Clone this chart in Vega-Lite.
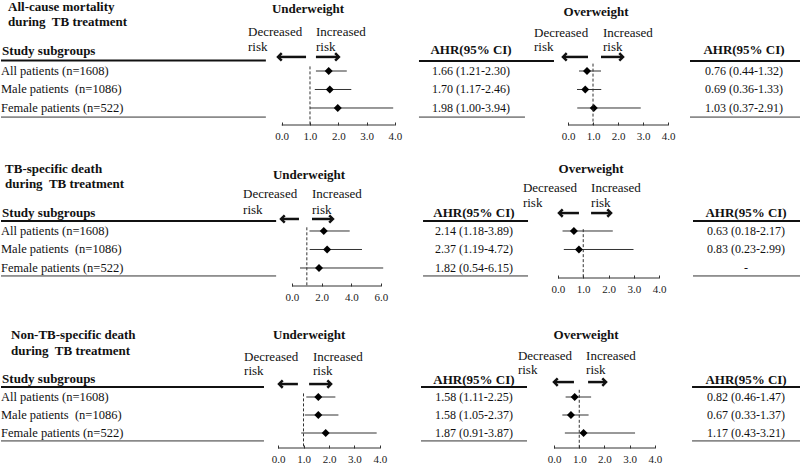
{
"$schema": "https://vega.github.io/schema/vega-lite/v6.json",
"padding": 0,
"background": "white",
"columns": 5,
"spacing": {"row": 30, "column": 0},
"bounds": "flush",
"config": {"view": {"stroke": null}, "font": "Liberation Serif",
  "axisX": {"labelOverlap": false, "labelFlush": false, "domain": false, "grid": false, "ticks": true, "tickSize": -3, "tickWidth": 1, "tickColor": "#333", "labelFont": "Liberation Serif", "labelFontSize": 11, "labelColor": "#222", "labelPadding": 8, "labelSeparation": 0}},
"datasets": {
"rows": [{"row":1,"label":"All patients (n=1608)"},{"row":2,"label":"Male patients\u00a0 (n=1086)"},{"row":3,"label":"Female patients (n=522)"}],
"forest": [
{"b":1,"e":"U","row":1,"ahr":1.66,"lo":1.21,"hi":2.30,"ci":"1.66 (1.21-2.30)"},
{"b":1,"e":"U","row":2,"ahr":1.70,"lo":1.17,"hi":2.46,"ci":"1.70 (1.17-2.46)"},
{"b":1,"e":"U","row":3,"ahr":1.98,"lo":1.00,"hi":3.94,"ci":"1.98 (1.00-3.94)"},
{"b":1,"e":"O","row":1,"ahr":0.76,"lo":0.44,"hi":1.32,"ci":"0.76 (0.44-1.32)"},
{"b":1,"e":"O","row":2,"ahr":0.69,"lo":0.36,"hi":1.33,"ci":"0.69 (0.36-1.33)"},
{"b":1,"e":"O","row":3,"ahr":1.03,"lo":0.37,"hi":2.91,"ci":"1.03 (0.37-2.91)"},
{"b":2,"e":"U","row":1,"ahr":2.14,"lo":1.18,"hi":3.89,"ci":"2.14 (1.18-3.89)"},
{"b":2,"e":"U","row":2,"ahr":2.37,"lo":1.19,"hi":4.72,"ci":"2.37 (1.19-4.72)"},
{"b":2,"e":"U","row":3,"ahr":1.82,"lo":0.54,"hi":6.15,"ci":"1.82 (0.54-6.15)"},
{"b":2,"e":"O","row":1,"ahr":0.63,"lo":0.18,"hi":2.17,"ci":"0.63 (0.18-2.17)"},
{"b":2,"e":"O","row":2,"ahr":0.83,"lo":0.23,"hi":2.99,"ci":"0.83 (0.23-2.99)"},
{"b":2,"e":"O","row":3,"ahr":null,"lo":null,"hi":null,"ci":"-"},
{"b":3,"e":"U","row":1,"ahr":1.58,"lo":1.11,"hi":2.25,"ci":"1.58 (1.11-2.25)"},
{"b":3,"e":"U","row":2,"ahr":1.58,"lo":1.05,"hi":2.37,"ci":"1.58 (1.05-2.37)"},
{"b":3,"e":"U","row":3,"ahr":1.87,"lo":0.91,"hi":3.87,"ci":"1.87 (0.91-3.87)"},
{"b":3,"e":"O","row":1,"ahr":0.82,"lo":0.46,"hi":1.47,"ci":"0.82 (0.46-1.47)"},
{"b":3,"e":"O","row":2,"ahr":0.67,"lo":0.33,"hi":1.37,"ci":"0.67 (0.33-1.37)"},
{"b":3,"e":"O","row":3,"ahr":1.17,"lo":0.43,"hi":3.21,"ci":"1.17 (0.43-3.21)"}
]
},
"concat": [
{"width":270,"height":125,"data":{"values":[{}]},"layer":[
 {"mark":{"type":"text","align":"left","baseline":"middle","fontSize":13,"fontWeight":"bold","lineHeight":15,"color":"#111"},
  "encoding":{"x":{"datum":0.026,"type":"quantitative","scale":{"domain":[0,1],"nice":false,"zero":false},"axis":null},"y":{"datum":-2.46,"type":"quantitative","scale":{"domain":[-2.838,3.919],"reverse":true,"nice":false,"zero":false},"axis":null},"text":{"value":["All-cause mortality","during\u00a0 TB treatment"]}}},
 {"mark":{"type":"text","align":"left","baseline":"middle","fontSize":13,"fontWeight":"bold","color":"#111"},
  "encoding":{"x":{"datum":0.004,"type":"quantitative","axis":null},"y":{"datum":-0.08,"type":"quantitative","axis":null},"text":{"value":"Study subgroups"}}},
 {"data":{"name":"rows"},"mark":{"type":"text","align":"left","baseline":"middle","fontSize":12.5,"color":"#111"},
  "encoding":{"x":{"datum":0,"type":"quantitative","axis":null},"y":{"field":"row","type":"quantitative","axis":null},"text":{"field":"label"}}},
 {"mark":{"type":"rule","strokeWidth":2,"color":"#111"},"encoding":{"x":{"datum":0,"type":"quantitative","axis":null},"x2":{"datum":0.981},"y":{"datum":0.43,"type":"quantitative","axis":null}}},
 {"mark":{"type":"rule","strokeWidth":1,"color":"#333"},"encoding":{"x":{"datum":0,"type":"quantitative","axis":null},"x2":{"datum":0.981},"y":{"datum":3.49,"type":"quantitative","axis":null}}}
]},
{"width":130,"height":125,"data":{"values":[{}]},"layer":[
 {"data":{"name":"forest"},"transform":[{"filter":"datum.b==1 && datum.e=='U'"}],"mark":{"type":"rule","strokeWidth":1,"color":"#333"},
  "encoding":{"x":{"field":"lo","type":"quantitative","scale":{"domain":[-0.378,4.216],"nice":false,"zero":false},"axis":{"values":[0,1,2,3,4],"format":".1f","title":null}},"x2":{"field":"hi"},"y":{"field":"row","type":"quantitative","scale":{"domain":[-2.838,3.919],"reverse":true,"nice":false,"zero":false},"axis":null}}},
 {"data":{"name":"forest"},"transform":[{"filter":"datum.b==1 && datum.e=='U'"}],"mark":{"type":"point","shape":"diamond","filled":true,"size":64,"color":"#000","opacity":1},
  "encoding":{"x":{"field":"ahr","type":"quantitative","axis":{"values":[0,1,2,3,4],"format":".1f","title":null}},"y":{"field":"row","type":"quantitative","axis":null}}},
 {"mark":{"type":"rule","strokeDash":[3,2],"strokeWidth":1,"color":"#333"},"encoding":{"x":{"datum":1,"type":"quantitative","axis":{"values":[0,1,2,3,4],"format":".1f","title":null}},"y":{"datum":0.75,"type":"quantitative","axis":null},"y2":{"datum":3.919}}},
 {"mark":{"type":"rule","strokeWidth":1,"color":"#333"},"encoding":{"x":{"datum":0,"type":"quantitative","axis":{"values":[0,1,2,3,4],"format":".1f","title":null}},"x2":{"datum":4},"y":{"datum":3.919,"type":"quantitative","axis":null}}},
 {"mark":{"type":"text","align":"center","baseline":"middle","fontSize":13,"fontWeight":"bold","color":"#111"},"encoding":{"x":{"datum":0.93,"type":"quantitative","axis":{"values":[0,1,2,3,4],"format":".1f","title":null}},"y":{"datum":-2.35,"type":"quantitative","axis":null},"text":{"value":"Underweight"}}},
 {"mark":{"type":"text","align":"left","baseline":"middle","fontSize":13,"lineHeight":15,"color":"#111"},"encoding":{"x":{"datum":-1.19,"type":"quantitative","axis":{"values":[0,1,2,3,4],"format":".1f","title":null}},"y":{"datum":-1.11,"type":"quantitative","axis":null},"text":{"value":["Decreased","risk"]}}},
 {"mark":{"type":"text","align":"left","baseline":"middle","fontSize":13,"lineHeight":15,"color":"#111"},"encoding":{"x":{"datum":1.21,"type":"quantitative","axis":{"values":[0,1,2,3,4],"format":".1f","title":null}},"y":{"datum":-1.11,"type":"quantitative","axis":null},"text":{"value":["Increased","risk"]}}},
 {"mark":{"type":"rule","strokeWidth":2.5,"color":"#111"},"encoding":{"x":{"datum":0.86,"type":"quantitative","axis":{"values":[0,1,2,3,4],"format":".1f","title":null}},"x2":{"datum":-0.13},"y":{"datum":0.24,"type":"quantitative","axis":null}}},
 {"mark":{"type":"point","shape":"M 1 -1 L 0 0 L 1 1","filled":false,"strokeWidth":2.5,"size":55,"color":"#111","opacity":1},"encoding":{"x":{"datum":-0.13,"type":"quantitative","axis":{"values":[0,1,2,3,4],"format":".1f","title":null}},"y":{"datum":0.24,"type":"quantitative","axis":null}}},
 {"mark":{"type":"rule","strokeWidth":2.5,"color":"#111"},"encoding":{"x":{"datum":1.21,"type":"quantitative","axis":{"values":[0,1,2,3,4],"format":".1f","title":null}},"x2":{"datum":2.02},"y":{"datum":0.24,"type":"quantitative","axis":null}}},
 {"mark":{"type":"point","shape":"M -1 -1 L 0 0 L -1 1","filled":false,"strokeWidth":2.5,"size":55,"color":"#111","opacity":1},"encoding":{"x":{"datum":2.02,"type":"quantitative","axis":{"values":[0,1,2,3,4],"format":".1f","title":null}},"y":{"datum":0.24,"type":"quantitative","axis":null}}}
]},
{"width":145,"height":125,"data":{"values":[{}]},"layer":[
 {"mark":{"type":"text","align":"center","baseline":"middle","fontSize":13,"fontWeight":"bold","color":"#111"},"encoding":{"x":{"datum":0.483,"type":"quantitative","scale":{"domain":[0,1],"nice":false,"zero":false},"axis":null},"y":{"datum":-0.14,"type":"quantitative","scale":{"domain":[-2.838,3.919],"reverse":true,"nice":false,"zero":false},"axis":null},"text":{"value":"AHR(95% CI)"}}},
 {"data":{"name":"forest"},"transform":[{"filter":"datum.b==1 && datum.e=='U'"}],"mark":{"type":"text","align":"center","baseline":"middle","fontSize":12,"color":"#111"},"encoding":{"x":{"datum":0.483,"type":"quantitative","axis":null},"y":{"field":"row","type":"quantitative","axis":null},"text":{"field":"ci"}}},
 {"mark":{"type":"rule","strokeWidth":2,"color":"#111"},"encoding":{"x":{"datum":0.124,"type":"quantitative","axis":null},"x2":{"datum":1.055},"y":{"datum":0.46,"type":"quantitative","axis":null}}},
 {"mark":{"type":"rule","strokeWidth":1,"color":"#333"},"encoding":{"x":{"datum":0.124,"type":"quantitative","axis":null},"x2":{"datum":0.855},"y":{"datum":3.49,"type":"quantitative","axis":null}}}
]},
{"width":135,"height":125,"data":{"values":[{}]},"layer":[
 {"data":{"name":"forest"},"transform":[{"filter":"datum.b==1 && datum.e=='O'"}],"mark":{"type":"rule","strokeWidth":1,"color":"#333"},
  "encoding":{"x":{"field":"lo","type":"quantitative","scale":{"domain":[-0.88,4.52],"nice":false,"zero":false},"axis":{"values":[0,1,2,3,4],"format":".1f","title":null}},"x2":{"field":"hi"},"y":{"field":"row","type":"quantitative","scale":{"domain":[-2.838,3.919],"reverse":true,"nice":false,"zero":false},"axis":null}}},
 {"data":{"name":"forest"},"transform":[{"filter":"datum.b==1 && datum.e=='O'"}],"mark":{"type":"point","shape":"diamond","filled":true,"size":64,"color":"#000","opacity":1},
  "encoding":{"x":{"field":"ahr","type":"quantitative","axis":{"values":[0,1,2,3,4],"format":".1f","title":null}},"y":{"field":"row","type":"quantitative","axis":null}}},
 {"mark":{"type":"rule","strokeDash":[3,2],"strokeWidth":1,"color":"#333"},"encoding":{"x":{"datum":1,"type":"quantitative","axis":{"values":[0,1,2,3,4],"format":".1f","title":null}},"y":{"datum":0.6,"type":"quantitative","axis":null},"y2":{"datum":3.919}}},
 {"mark":{"type":"rule","strokeWidth":1,"color":"#333"},"encoding":{"x":{"datum":0,"type":"quantitative","axis":{"values":[0,1,2,3,4],"format":".1f","title":null}},"x2":{"datum":4},"y":{"datum":3.919,"type":"quantitative","axis":null}}},
 {"mark":{"type":"text","align":"center","baseline":"middle","fontSize":13,"fontWeight":"bold","color":"#111"},"encoding":{"x":{"datum":1.12,"type":"quantitative","axis":{"values":[0,1,2,3,4],"format":".1f","title":null}},"y":{"datum":-2.19,"type":"quantitative","axis":null},"text":{"value":"Overweight"}}},
 {"mark":{"type":"text","align":"left","baseline":"middle","fontSize":13,"lineHeight":14,"color":"#111"},"encoding":{"x":{"datum":-1.36,"type":"quantitative","axis":{"values":[0,1,2,3,4],"format":".1f","title":null}},"y":{"datum":-1.05,"type":"quantitative","axis":null},"text":{"value":["Decreased","risk"]}}},
 {"mark":{"type":"text","align":"left","baseline":"middle","fontSize":13,"lineHeight":14,"color":"#111"},"encoding":{"x":{"datum":1.4,"type":"quantitative","axis":{"values":[0,1,2,3,4],"format":".1f","title":null}},"y":{"datum":-1.05,"type":"quantitative","axis":null},"text":{"value":["Increased","risk"]}}},
 {"mark":{"type":"rule","strokeWidth":2.5,"color":"#111"},"encoding":{"x":{"datum":0.8,"type":"quantitative","axis":{"values":[0,1,2,3,4],"format":".1f","title":null}},"x2":{"datum":-0.2},"y":{"datum":0.24,"type":"quantitative","axis":null}}},
 {"mark":{"type":"point","shape":"M 1 -1 L 0 0 L 1 1","filled":false,"strokeWidth":2.5,"size":55,"color":"#111","opacity":1},"encoding":{"x":{"datum":-0.2,"type":"quantitative","axis":{"values":[0,1,2,3,4],"format":".1f","title":null}},"y":{"datum":0.24,"type":"quantitative","axis":null}}},
 {"mark":{"type":"rule","strokeWidth":2.5,"color":"#111"},"encoding":{"x":{"datum":1.32,"type":"quantitative","axis":{"values":[0,1,2,3,4],"format":".1f","title":null}},"x2":{"datum":2.2},"y":{"datum":0.24,"type":"quantitative","axis":null}}},
 {"mark":{"type":"point","shape":"M -1 -1 L 0 0 L -1 1","filled":false,"strokeWidth":2.5,"size":55,"color":"#111","opacity":1},"encoding":{"x":{"datum":2.2,"type":"quantitative","axis":{"values":[0,1,2,3,4],"format":".1f","title":null}},"y":{"datum":0.24,"type":"quantitative","axis":null}}}
]},
{"width":120,"height":125,"data":{"values":[{}]},"layer":[
 {"mark":{"type":"text","align":"center","baseline":"middle","fontSize":13,"fontWeight":"bold","color":"#111"},"encoding":{"x":{"datum":0.525,"type":"quantitative","scale":{"domain":[0,1],"nice":false,"zero":false},"axis":null},"y":{"datum":-0.14,"type":"quantitative","scale":{"domain":[-2.838,3.919],"reverse":true,"nice":false,"zero":false},"axis":null},"text":{"value":"AHR(95% CI)"}}},
 {"data":{"name":"forest"},"transform":[{"filter":"datum.b==1 && datum.e=='O'"}],"mark":{"type":"text","align":"center","baseline":"middle","fontSize":12,"color":"#111"},"encoding":{"x":{"datum":0.525,"type":"quantitative","axis":null},"y":{"field":"row","type":"quantitative","axis":null},"text":{"field":"ci"}}},
 {"mark":{"type":"rule","strokeWidth":2,"color":"#111"},"encoding":{"x":{"datum":0.075,"type":"quantitative","axis":null},"x2":{"datum":1},"y":{"datum":0.46,"type":"quantitative","axis":null}}},
 {"mark":{"type":"rule","strokeWidth":1,"color":"#333"},"encoding":{"x":{"datum":0.075,"type":"quantitative","axis":null},"x2":{"datum":1},"y":{"datum":3.49,"type":"quantitative","axis":null}}}
]},

{"width":270,"height":131,"data":{"values":[{}]},"layer":[
 {"mark":{"type":"text","align":"left","baseline":"middle","fontSize":13,"fontWeight":"bold","lineHeight":15,"color":"#111"},
  "encoding":{"x":{"datum":0.015,"type":"quantitative","scale":{"domain":[0,1],"nice":false,"zero":false},"axis":null},"y":{"datum":-2.35,"type":"quantitative","scale":{"domain":[-3.108,3.973],"reverse":true,"nice":false,"zero":false},"axis":null},"text":{"value":["TB-specific death","during\u00a0 TB treatment"]}}},
 {"mark":{"type":"text","align":"left","baseline":"middle","fontSize":13,"fontWeight":"bold","color":"#111"},
  "encoding":{"x":{"datum":0.004,"type":"quantitative","axis":null},"y":{"datum":0.03,"type":"quantitative","axis":null},"text":{"value":"Study subgroups"}}},
 {"data":{"name":"rows"},"mark":{"type":"text","align":"left","baseline":"middle","fontSize":12.5,"color":"#111"},
  "encoding":{"x":{"datum":0,"type":"quantitative","axis":null},"y":{"field":"row","type":"quantitative","axis":null},"text":{"field":"label"}}},
 {"mark":{"type":"rule","strokeWidth":2,"color":"#111"},"encoding":{"x":{"datum":0,"type":"quantitative","axis":null},"x2":{"datum":1.019},"y":{"datum":0.46,"type":"quantitative","axis":null}}},
 {"mark":{"type":"rule","strokeWidth":1,"color":"#333"},"encoding":{"x":{"datum":0,"type":"quantitative","axis":null},"x2":{"datum":1.019},"y":{"datum":3.43,"type":"quantitative","axis":null}}}
]},
{"width":130,"height":131,"data":{"values":[{}]},"layer":[
 {"data":{"name":"forest"},"transform":[{"filter":"datum.b==2 && datum.e=='U'"}],"mark":{"type":"rule","strokeWidth":1,"color":"#333"},
  "encoding":{"x":{"field":"lo","type":"quantitative","scale":{"domain":[-1.416,7.35],"nice":false,"zero":false},"axis":{"values":[0,2,4,6],"format":".1f","title":null}},"x2":{"field":"hi"},"y":{"field":"row","type":"quantitative","scale":{"domain":[-3.108,3.973],"reverse":true,"nice":false,"zero":false},"axis":null}}},
 {"data":{"name":"forest"},"transform":[{"filter":"datum.b==2 && datum.e=='U'"}],"mark":{"type":"point","shape":"diamond","filled":true,"size":64,"color":"#000","opacity":1},
  "encoding":{"x":{"field":"ahr","type":"quantitative","axis":{"values":[0,2,4,6],"format":".1f","title":null}},"y":{"field":"row","type":"quantitative","axis":null}}},
 {"mark":{"type":"rule","strokeDash":[3,2],"strokeWidth":1,"color":"#333"},"encoding":{"x":{"datum":1,"type":"quantitative","axis":{"values":[0,2,4,6],"format":".1f","title":null}},"y":{"datum":0.8,"type":"quantitative","axis":null},"y2":{"datum":3.973}}},
 {"mark":{"type":"rule","strokeWidth":1,"color":"#333"},"encoding":{"x":{"datum":0,"type":"quantitative","axis":{"values":[0,2,4,6],"format":".1f","title":null}},"x2":{"datum":6},"y":{"datum":3.973,"type":"quantitative","axis":null}}},
 {"mark":{"type":"text","align":"center","baseline":"middle","fontSize":13,"fontWeight":"bold","color":"#111"},"encoding":{"x":{"datum":1.15,"type":"quantitative","axis":{"values":[0,2,4,6],"format":".1f","title":null}},"y":{"datum":-2.03,"type":"quantitative","axis":null},"text":{"value":"Underweight"}}},
 {"mark":{"type":"text","align":"left","baseline":"middle","fontSize":13,"lineHeight":16,"color":"#111"},"encoding":{"x":{"datum":-3.3,"type":"quantitative","axis":{"values":[0,2,4,6],"format":".1f","title":null}},"y":{"datum":-1.0,"type":"quantitative","axis":null},"text":{"value":["Decreased","risk"]}}},
 {"mark":{"type":"text","align":"left","baseline":"middle","fontSize":13,"lineHeight":16,"color":"#111"},"encoding":{"x":{"datum":1.35,"type":"quantitative","axis":{"values":[0,2,4,6],"format":".1f","title":null}},"y":{"datum":-1.0,"type":"quantitative","axis":null},"text":{"value":["Increased","risk"]}}},
 {"mark":{"type":"rule","strokeWidth":2.5,"color":"#111"},"encoding":{"x":{"datum":0.47,"type":"quantitative","axis":{"values":[0,2,4,6],"format":".1f","title":null}},"x2":{"datum":-0.74},"y":{"datum":0.35,"type":"quantitative","axis":null}}},
 {"mark":{"type":"point","shape":"M 1 -1 L 0 0 L 1 1","filled":false,"strokeWidth":2.5,"size":55,"color":"#111","opacity":1},"encoding":{"x":{"datum":-0.74,"type":"quantitative","axis":{"values":[0,2,4,6],"format":".1f","title":null}},"y":{"datum":0.35,"type":"quantitative","axis":null}}},
 {"mark":{"type":"rule","strokeWidth":2.5,"color":"#111"},"encoding":{"x":{"datum":1.35,"type":"quantitative","axis":{"values":[0,2,4,6],"format":".1f","title":null}},"x2":{"datum":2.76},"y":{"datum":0.35,"type":"quantitative","axis":null}}},
 {"mark":{"type":"point","shape":"M -1 -1 L 0 0 L -1 1","filled":false,"strokeWidth":2.5,"size":55,"color":"#111","opacity":1},"encoding":{"x":{"datum":2.76,"type":"quantitative","axis":{"values":[0,2,4,6],"format":".1f","title":null}},"y":{"datum":0.35,"type":"quantitative","axis":null}}}
]},
{"width":145,"height":131,"data":{"values":[{}]},"layer":[
 {"mark":{"type":"text","align":"center","baseline":"middle","fontSize":13,"fontWeight":"bold","color":"#111"},"encoding":{"x":{"datum":0.503,"type":"quantitative","scale":{"domain":[0,1],"nice":false,"zero":false},"axis":null},"y":{"datum":0.03,"type":"quantitative","scale":{"domain":[-3.108,3.973],"reverse":true,"nice":false,"zero":false},"axis":null},"text":{"value":"AHR(95% CI)"}}},
 {"data":{"name":"forest"},"transform":[{"filter":"datum.b==2 && datum.e=='U'"}],"mark":{"type":"text","align":"center","baseline":"middle","fontSize":12,"color":"#111"},"encoding":{"x":{"datum":0.503,"type":"quantitative","axis":null},"y":{"field":"row","type":"quantitative","axis":null},"text":{"field":"ci"}}},
 {"mark":{"type":"rule","strokeWidth":2,"color":"#111"},"encoding":{"x":{"datum":0.152,"type":"quantitative","axis":null},"x2":{"datum":0.876},"y":{"datum":0.46,"type":"quantitative","axis":null}}},
 {"mark":{"type":"rule","strokeWidth":1,"color":"#333"},"encoding":{"x":{"datum":0.152,"type":"quantitative","axis":null},"x2":{"datum":0.876},"y":{"datum":3.43,"type":"quantitative","axis":null}}}
]},
{"width":135,"height":123,"data":{"values":[{}]},"layer":[
 {"data":{"name":"forest"},"transform":[{"filter":"datum.b==2 && datum.e=='O'"}],"mark":{"type":"rule","strokeWidth":1,"color":"#333"},
  "encoding":{"x":{"field":"lo","type":"quantitative","scale":{"domain":[-0.475,4.871],"nice":false,"zero":false},"axis":{"values":[0,1,2,3,4],"format":".1f","title":null}},"x2":{"field":"hi"},"y":{"field":"row","type":"quantitative","scale":{"domain":[-3.108,3.541],"reverse":true,"nice":false,"zero":false},"axis":null}}},
 {"data":{"name":"forest"},"transform":[{"filter":"datum.b==2 && datum.e=='O'"}],"mark":{"type":"point","shape":"diamond","filled":true,"size":64,"color":"#000","opacity":1},
  "encoding":{"x":{"field":"ahr","type":"quantitative","axis":{"values":[0,1,2,3,4],"format":".1f","title":null}},"y":{"field":"row","type":"quantitative","axis":null}}},
 {"mark":{"type":"rule","strokeDash":[3,2],"strokeWidth":1,"color":"#333"},"encoding":{"x":{"datum":1,"type":"quantitative","axis":{"values":[0,1,2,3,4],"format":".1f","title":null}},"y":{"datum":0.9,"type":"quantitative","axis":null},"y2":{"datum":3.541}}},
 {"mark":{"type":"rule","strokeWidth":1,"color":"#333"},"encoding":{"x":{"datum":0,"type":"quantitative","axis":{"values":[0,1,2,3,4],"format":".1f","title":null}},"x2":{"datum":4},"y":{"datum":3.541,"type":"quantitative","axis":null}}},
 {"mark":{"type":"text","align":"center","baseline":"middle","fontSize":13,"fontWeight":"bold","color":"#111"},"encoding":{"x":{"datum":1.31,"type":"quantitative","axis":{"values":[0,1,2,3,4],"format":".1f","title":null}},"y":{"datum":-2.35,"type":"quantitative","axis":null},"text":{"value":"Overweight"}}},
 {"mark":{"type":"text","align":"left","baseline":"middle","fontSize":13,"lineHeight":15,"color":"#111"},"encoding":{"x":{"datum":-1.39,"type":"quantitative","axis":{"values":[0,1,2,3,4],"format":".1f","title":null}},"y":{"datum":-1.32,"type":"quantitative","axis":null},"text":{"value":["Decreased","risk"]}}},
 {"mark":{"type":"text","align":"left","baseline":"middle","fontSize":13,"lineHeight":15,"color":"#111"},"encoding":{"x":{"datum":1.31,"type":"quantitative","axis":{"values":[0,1,2,3,4],"format":".1f","title":null}},"y":{"datum":-1.32,"type":"quantitative","axis":null},"text":{"value":["Increased","risk"]}}},
 {"mark":{"type":"rule","strokeWidth":2.5,"color":"#111"},"encoding":{"x":{"datum":0.83,"type":"quantitative","axis":{"values":[0,1,2,3,4],"format":".1f","title":null}},"x2":{"datum":0.04},"y":{"datum":0.03,"type":"quantitative","axis":null}}},
 {"mark":{"type":"point","shape":"M 1 -1 L 0 0 L 1 1","filled":false,"strokeWidth":2.5,"size":55,"color":"#111","opacity":1},"encoding":{"x":{"datum":0.04,"type":"quantitative","axis":{"values":[0,1,2,3,4],"format":".1f","title":null}},"y":{"datum":0.03,"type":"quantitative","axis":null}}},
 {"mark":{"type":"rule","strokeWidth":2.5,"color":"#111"},"encoding":{"x":{"datum":1.31,"type":"quantitative","axis":{"values":[0,1,2,3,4],"format":".1f","title":null}},"x2":{"datum":2.1},"y":{"datum":0.03,"type":"quantitative","axis":null}}},
 {"mark":{"type":"point","shape":"M -1 -1 L 0 0 L -1 1","filled":false,"strokeWidth":2.5,"size":55,"color":"#111","opacity":1},"encoding":{"x":{"datum":2.1,"type":"quantitative","axis":{"values":[0,1,2,3,4],"format":".1f","title":null}},"y":{"datum":0.03,"type":"quantitative","axis":null}}}
]},
{"width":120,"height":131,"data":{"values":[{}]},"layer":[
 {"mark":{"type":"text","align":"center","baseline":"middle","fontSize":13,"fontWeight":"bold","color":"#111"},"encoding":{"x":{"datum":0.542,"type":"quantitative","scale":{"domain":[0,1],"nice":false,"zero":false},"axis":null},"y":{"datum":0.03,"type":"quantitative","scale":{"domain":[-3.108,3.973],"reverse":true,"nice":false,"zero":false},"axis":null},"text":{"value":"AHR(95% CI)"}}},
 {"data":{"name":"forest"},"transform":[{"filter":"datum.b==2 && datum.e=='O'"}],"mark":{"type":"text","align":"center","baseline":"middle","fontSize":12,"color":"#111"},"encoding":{"x":{"datum":0.542,"type":"quantitative","axis":null},"y":{"field":"row","type":"quantitative","axis":null},"text":{"field":"ci"}}},
 {"mark":{"type":"rule","strokeWidth":2,"color":"#111"},"encoding":{"x":{"datum":0.1,"type":"quantitative","axis":null},"x2":{"datum":1},"y":{"datum":0.46,"type":"quantitative","axis":null}}},
 {"mark":{"type":"rule","strokeWidth":1,"color":"#333"},"encoding":{"x":{"datum":0.1,"type":"quantitative","axis":null},"x2":{"datum":1},"y":{"datum":3.43,"type":"quantitative","axis":null}}}
]},

{"width":270,"height":132,"data":{"values":[{}]},"layer":[
 {"mark":{"type":"text","align":"left","baseline":"middle","fontSize":13,"fontWeight":"bold","lineHeight":16,"color":"#111"},
  "encoding":{"x":{"datum":0.037,"type":"quantitative","scale":{"domain":[0,1],"nice":false,"zero":false},"axis":null},"y":{"datum":-2.44,"type":"quantitative","scale":{"domain":[-3.5,3.833],"reverse":true,"nice":false,"zero":false},"axis":null},"text":{"value":["Non-TB-specific death","during\u00a0 TB treatment"]}}},
 {"mark":{"type":"text","align":"left","baseline":"middle","fontSize":13,"fontWeight":"bold","color":"#111"},
  "encoding":{"x":{"datum":0.004,"type":"quantitative","axis":null},"y":{"datum":0.0,"type":"quantitative","axis":null},"text":{"value":"Study subgroups"}}},
 {"data":{"name":"rows"},"mark":{"type":"text","align":"left","baseline":"middle","fontSize":12.5,"color":"#111"},
  "encoding":{"x":{"datum":0,"type":"quantitative","axis":null},"y":{"field":"row","type":"quantitative","axis":null},"text":{"field":"label"}}},
 {"mark":{"type":"rule","strokeWidth":2,"color":"#111"},"encoding":{"x":{"datum":0,"type":"quantitative","axis":null},"x2":{"datum":0.974},"y":{"datum":0.44,"type":"quantitative","axis":null}}},
 {"mark":{"type":"rule","strokeWidth":1,"color":"#333"},"encoding":{"x":{"datum":0,"type":"quantitative","axis":null},"x2":{"datum":0.974},"y":{"datum":3.44,"type":"quantitative","axis":null}}}
]},
{"width":130,"height":132,"data":{"values":[{}]},"layer":[
 {"data":{"name":"forest"},"transform":[{"filter":"datum.b==3 && datum.e=='U'"}],"mark":{"type":"rule","strokeWidth":1,"color":"#333"},
  "encoding":{"x":{"field":"lo","type":"quantitative","scale":{"domain":[-0.275,4.824],"nice":false,"zero":false},"axis":{"values":[0,1,2,3,4],"format":".1f","title":null}},"x2":{"field":"hi"},"y":{"field":"row","type":"quantitative","scale":{"domain":[-3.5,3.833],"reverse":true,"nice":false,"zero":false},"axis":null}}},
 {"data":{"name":"forest"},"transform":[{"filter":"datum.b==3 && datum.e=='U'"}],"mark":{"type":"point","shape":"diamond","filled":true,"size":64,"color":"#000","opacity":1},
  "encoding":{"x":{"field":"ahr","type":"quantitative","axis":{"values":[0,1,2,3,4],"format":".1f","title":null}},"y":{"field":"row","type":"quantitative","axis":null}}},
 {"mark":{"type":"rule","strokeDash":[3,2],"strokeWidth":1,"color":"#333"},"encoding":{"x":{"datum":1,"type":"quantitative","axis":{"values":[0,1,2,3,4],"format":".1f","title":null}},"y":{"datum":0.8,"type":"quantitative","axis":null},"y2":{"datum":3.833}}},
 {"mark":{"type":"rule","strokeWidth":1,"color":"#333"},"encoding":{"x":{"datum":0,"type":"quantitative","axis":{"values":[0,1,2,3,4],"format":".1f","title":null}},"x2":{"datum":4},"y":{"datum":3.833,"type":"quantitative","axis":null}}},
 {"mark":{"type":"text","align":"center","baseline":"middle","fontSize":13,"fontWeight":"bold","color":"#111"},"encoding":{"x":{"datum":1.22,"type":"quantitative","axis":{"values":[0,1,2,3,4],"format":".1f","title":null}},"y":{"datum":-2.44,"type":"quantitative","axis":null},"text":{"value":"Underweight"}}},
 {"mark":{"type":"text","align":"left","baseline":"middle","fontSize":13,"lineHeight":14,"color":"#111"},"encoding":{"x":{"datum":-1.33,"type":"quantitative","axis":{"values":[0,1,2,3,4],"format":".1f","title":null}},"y":{"datum":-1.22,"type":"quantitative","axis":null},"text":{"value":["Decreased","risk"]}}},
 {"mark":{"type":"text","align":"left","baseline":"middle","fontSize":13,"lineHeight":14,"color":"#111"},"encoding":{"x":{"datum":1.37,"type":"quantitative","axis":{"values":[0,1,2,3,4],"format":".1f","title":null}},"y":{"datum":-1.22,"type":"quantitative","axis":null},"text":{"value":["Increased","risk"]}}},
 {"mark":{"type":"rule","strokeWidth":2.5,"color":"#111"},"encoding":{"x":{"datum":0.78,"type":"quantitative","axis":{"values":[0,1,2,3,4],"format":".1f","title":null}},"x2":{"datum":0.04},"y":{"datum":0.28,"type":"quantitative","axis":null}}},
 {"mark":{"type":"point","shape":"M 1 -1 L 0 0 L 1 1","filled":false,"strokeWidth":2.5,"size":55,"color":"#111","opacity":1},"encoding":{"x":{"datum":0.04,"type":"quantitative","axis":{"values":[0,1,2,3,4],"format":".1f","title":null}},"y":{"datum":0.28,"type":"quantitative","axis":null}}},
 {"mark":{"type":"rule","strokeWidth":2.5,"color":"#111"},"encoding":{"x":{"datum":1.22,"type":"quantitative","axis":{"values":[0,1,2,3,4],"format":".1f","title":null}},"x2":{"datum":2.08},"y":{"datum":0.28,"type":"quantitative","axis":null}}},
 {"mark":{"type":"point","shape":"M -1 -1 L 0 0 L -1 1","filled":false,"strokeWidth":2.5,"size":55,"color":"#111","opacity":1},"encoding":{"x":{"datum":2.08,"type":"quantitative","axis":{"values":[0,1,2,3,4],"format":".1f","title":null}},"y":{"datum":0.28,"type":"quantitative","axis":null}}}
]},
{"width":145,"height":132,"data":{"values":[{}]},"layer":[
 {"mark":{"type":"text","align":"center","baseline":"middle","fontSize":13,"fontWeight":"bold","color":"#111"},"encoding":{"x":{"datum":0.503,"type":"quantitative","scale":{"domain":[0,1],"nice":false,"zero":false},"axis":null},"y":{"datum":0.06,"type":"quantitative","scale":{"domain":[-3.5,3.833],"reverse":true,"nice":false,"zero":false},"axis":null},"text":{"value":"AHR(95% CI)"}}},
 {"data":{"name":"forest"},"transform":[{"filter":"datum.b==3 && datum.e=='U'"}],"mark":{"type":"text","align":"center","baseline":"middle","fontSize":12,"color":"#111"},"encoding":{"x":{"datum":0.503,"type":"quantitative","axis":null},"y":{"field":"row","type":"quantitative","axis":null},"text":{"field":"ci"}}},
 {"mark":{"type":"rule","strokeWidth":2,"color":"#111"},"encoding":{"x":{"datum":0.138,"type":"quantitative","axis":null},"x2":{"datum":0.869},"y":{"datum":0.44,"type":"quantitative","axis":null}}},
 {"mark":{"type":"rule","strokeWidth":1,"color":"#333"},"encoding":{"x":{"datum":0.138,"type":"quantitative","axis":null},"x2":{"datum":0.869},"y":{"datum":3.44,"type":"quantitative","axis":null}}}
]},
{"width":135,"height":132,"data":{"values":[{}]},"layer":[
 {"data":{"name":"forest"},"transform":[{"filter":"datum.b==3 && datum.e=='O'"}],"mark":{"type":"rule","strokeWidth":1,"color":"#333"},
  "encoding":{"x":{"field":"lo","type":"quantitative","scale":{"domain":[-0.317,5.03],"nice":false,"zero":false},"axis":{"values":[0,1,2,3,4],"format":".1f","title":null}},"x2":{"field":"hi"},"y":{"field":"row","type":"quantitative","scale":{"domain":[-3.5,3.833],"reverse":true,"nice":false,"zero":false},"axis":null}}},
 {"data":{"name":"forest"},"transform":[{"filter":"datum.b==3 && datum.e=='O'"}],"mark":{"type":"point","shape":"diamond","filled":true,"size":64,"color":"#000","opacity":1},
  "encoding":{"x":{"field":"ahr","type":"quantitative","axis":{"values":[0,1,2,3,4],"format":".1f","title":null}},"y":{"field":"row","type":"quantitative","axis":null}}},
 {"mark":{"type":"rule","strokeDash":[3,2],"strokeWidth":1,"color":"#333"},"encoding":{"x":{"datum":1,"type":"quantitative","axis":{"values":[0,1,2,3,4],"format":".1f","title":null}},"y":{"datum":0.6,"type":"quantitative","axis":null},"y2":{"datum":3.833}}},
 {"mark":{"type":"rule","strokeWidth":1,"color":"#333"},"encoding":{"x":{"datum":0,"type":"quantitative","axis":{"values":[0,1,2,3,4],"format":".1f","title":null}},"x2":{"datum":4},"y":{"datum":3.833,"type":"quantitative","axis":null}}},
 {"mark":{"type":"text","align":"center","baseline":"middle","fontSize":13,"fontWeight":"bold","color":"#111"},"encoding":{"x":{"datum":1.27,"type":"quantitative","axis":{"values":[0,1,2,3,4],"format":".1f","title":null}},"y":{"datum":-2.44,"type":"quantitative","axis":null},"text":{"value":"Overweight"}}},
 {"mark":{"type":"text","align":"left","baseline":"middle","fontSize":13,"lineHeight":14,"color":"#111"},"encoding":{"x":{"datum":-1.43,"type":"quantitative","axis":{"values":[0,1,2,3,4],"format":".1f","title":null}},"y":{"datum":-1.28,"type":"quantitative","axis":null},"text":{"value":["Decreased","risk"]}}},
 {"mark":{"type":"text","align":"left","baseline":"middle","fontSize":13,"lineHeight":14,"color":"#111"},"encoding":{"x":{"datum":1.27,"type":"quantitative","axis":{"values":[0,1,2,3,4],"format":".1f","title":null}},"y":{"datum":-1.28,"type":"quantitative","axis":null},"text":{"value":["Increased","risk"]}}},
 {"mark":{"type":"rule","strokeWidth":2.5,"color":"#111"},"encoding":{"x":{"datum":0.79,"type":"quantitative","axis":{"values":[0,1,2,3,4],"format":".1f","title":null}},"x2":{"datum":0.0},"y":{"datum":0.17,"type":"quantitative","axis":null}}},
 {"mark":{"type":"point","shape":"M 1 -1 L 0 0 L 1 1","filled":false,"strokeWidth":2.5,"size":55,"color":"#111","opacity":1},"encoding":{"x":{"datum":0.0,"type":"quantitative","axis":{"values":[0,1,2,3,4],"format":".1f","title":null}},"y":{"datum":0.17,"type":"quantitative","axis":null}}},
 {"mark":{"type":"rule","strokeWidth":2.5,"color":"#111"},"encoding":{"x":{"datum":1.35,"type":"quantitative","axis":{"values":[0,1,2,3,4],"format":".1f","title":null}},"x2":{"datum":2.06},"y":{"datum":0.17,"type":"quantitative","axis":null}}},
 {"mark":{"type":"point","shape":"M -1 -1 L 0 0 L -1 1","filled":false,"strokeWidth":2.5,"size":55,"color":"#111","opacity":1},"encoding":{"x":{"datum":2.06,"type":"quantitative","axis":{"values":[0,1,2,3,4],"format":".1f","title":null}},"y":{"datum":0.17,"type":"quantitative","axis":null}}}
]},
{"width":120,"height":132,"data":{"values":[{}]},"layer":[
 {"mark":{"type":"text","align":"center","baseline":"middle","fontSize":13,"fontWeight":"bold","color":"#111"},"encoding":{"x":{"datum":0.542,"type":"quantitative","scale":{"domain":[0,1],"nice":false,"zero":false},"axis":null},"y":{"datum":0.06,"type":"quantitative","scale":{"domain":[-3.5,3.833],"reverse":true,"nice":false,"zero":false},"axis":null},"text":{"value":"AHR(95% CI)"}}},
 {"data":{"name":"forest"},"transform":[{"filter":"datum.b==3 && datum.e=='O'"}],"mark":{"type":"text","align":"center","baseline":"middle","fontSize":12,"color":"#111"},"encoding":{"x":{"datum":0.542,"type":"quantitative","axis":null},"y":{"field":"row","type":"quantitative","axis":null},"text":{"field":"ci"}}},
 {"mark":{"type":"rule","strokeWidth":2,"color":"#111"},"encoding":{"x":{"datum":0.092,"type":"quantitative","axis":null},"x2":{"datum":1},"y":{"datum":0.44,"type":"quantitative","axis":null}}},
 {"mark":{"type":"rule","strokeWidth":1,"color":"#333"},"encoding":{"x":{"datum":0.092,"type":"quantitative","axis":null},"x2":{"datum":1},"y":{"datum":3.44,"type":"quantitative","axis":null}}}
]}
]
}
